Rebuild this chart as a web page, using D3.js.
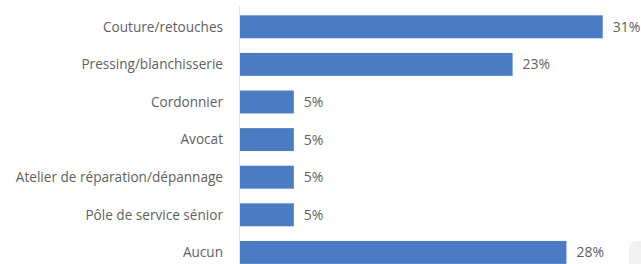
<!DOCTYPE html>
<html>
<head>
<meta charset="utf-8">
<script src="https://cdn.jsdelivr.net/npm/d3@7/dist/d3.min.js"></script>
<style>
  html, body { margin: 0; padding: 0; background: #ffffff; }
  svg { display: block; }
</style>
</head>
<body>
<div id="chart"></div>
<script>
const categories = [
  "Couture/retouches",
  "Pressing/blanchisserie",
  "Cordonnier",
  "Avocat",
  "Atelier de réparation/dépannage",
  "Pôle de service sénior",
  "Aucun"
];
const values = [31, 23.3, 4.6, 4.6, 4.6, 4.6, 27.9];
const valueLabels = ["31%", "23%", "5%", "5%", "5%", "5%", "28%"];

const W = 641, H = 264;
const svg = d3.select("#chart").append("svg").attr("width", W).attr("height", H);

const x0 = 240;
const x = d3.scaleLinear().domain([0, 31]).range([x0, 602.7]);
const y = d3.scaleBand().domain(categories).range([8, 271.2]).paddingInner(0.39).paddingOuter(0.195);

// faint artifact bottom-right
svg.append("rect").attr("x", 629).attr("y", 241).attr("width", 20).attr("height", 30)
  .attr("rx", 8).attr("fill", "#f1f1f1");

// axis line
svg.append("line").attr("x1", x0 - 0.5).attr("x2", x0 - 0.5).attr("y1", 6).attr("y2", H)
  .attr("stroke", "#e4e4e4").attr("stroke-width", 1);

const data = categories.map((c, i) => ({ c, v: values[i], l: valueLabels[i] }));

svg.selectAll("rect.bar").data(data).enter().append("rect")
  .attr("class", "bar")
  .attr("x", x(0))
  .attr("y", d => y(d.c))
  .attr("width", d => x(d.v) - x(0))
  .attr("height", y.bandwidth())
  .attr("fill", "#4a7bc3");

const font = "'Open Sans', 'Noto Sans', sans-serif";

svg.selectAll("text.cat").data(data).enter().append("text")
  .attr("class", "cat")
  .attr("x", 223)
  .attr("y", d => y(d.c) + y.bandwidth() / 2)
  .attr("dy", "0.35em")
  .attr("text-anchor", "end")
  .attr("font-family", font)
  .attr("font-size", 13.6)
  .attr("fill", "#5f5f5f")
  .text(d => d.c);

svg.selectAll("text.val").data(data).enter().append("text")
  .attr("class", "val")
  .attr("x", d => x(d.v) + 10)
  .attr("y", d => y(d.c) + y.bandwidth() / 2)
  .attr("dy", "0.35em")
  .attr("font-family", font)
  .attr("font-size", 14)
  .attr("fill", "#5f5f5f")
  .text(d => d.l);
</script>
</body>
</html>
